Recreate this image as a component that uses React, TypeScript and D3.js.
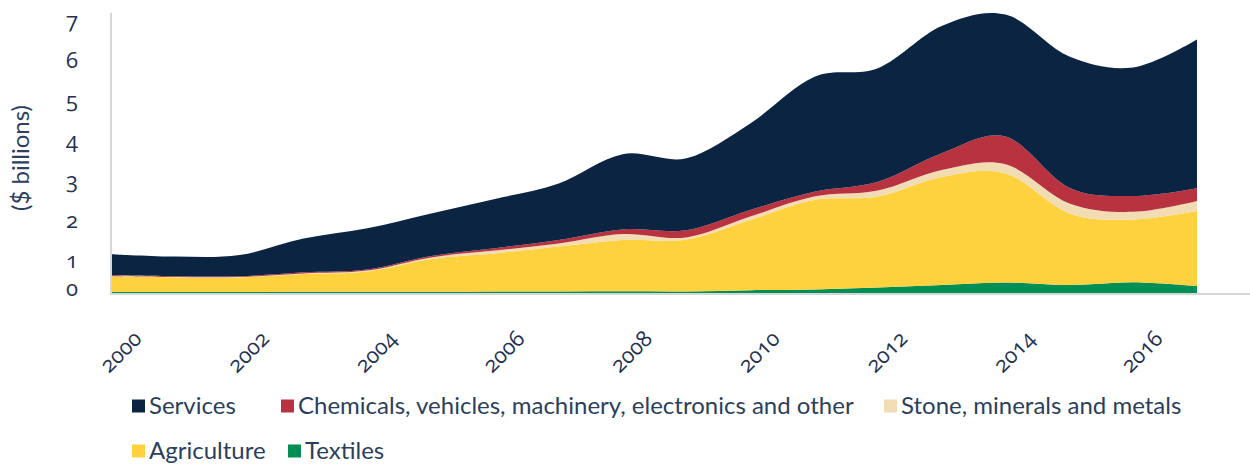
import React from "react";
import * as d3 from "d3";

// ---- data (US$ billions) ----
const years = [2000, 2001, 2002, 2003, 2004, 2005, 2006, 2007, 2008, 2009, 2010, 2011, 2012, 2013, 2014, 2015, 2016, 2017];
const textiles = [0.025, 0.025, 0.025, 0.03, 0.03, 0.03, 0.04, 0.04, 0.045, 0.04, 0.07, 0.09, 0.14, 0.2, 0.26, 0.2, 0.27, 0.175];
const agriculture = [0.385, 0.365, 0.365, 0.445, 0.51, 0.82, 0.95, 1.12, 1.28, 1.295, 1.755, 2.235, 2.27, 2.7, 2.73, 1.79, 1.57, 1.875];
const stone = [0.01, 0.01, 0.01, 0.015, 0.02, 0.04, 0.07, 0.08, 0.15, 0.055, 0.085, 0.085, 0.15, 0.175, 0.23, 0.25, 0.19, 0.25];
const chemicals = [0.025, 0.02, 0.02, 0.03, 0.03, 0.035, 0.06, 0.085, 0.115, 0.18, 0.165, 0.12, 0.22, 0.42, 0.69, 0.39, 0.395, 0.32];
const services = [0.525, 0.49, 0.53, 0.84, 1.03, 1.065, 1.23, 1.415, 1.88, 1.8, 2.165, 2.87, 2.84, 3.18, 3.05, 3.28, 3.215, 3.72];

const seriesKeys = ["textiles", "agriculture", "stone", "chemicals", "services"];
const seriesColors = ["#028f56", "#fed13e", "#f1dcb3", "#b8333f", "#0a2442"];

const yTicks = [0, 1, 2, 3, 4, 5, 6, 7];
const xTickLabels = [2000, 2002, 2004, 2006, 2008, 2010, 2012, 2014, 2016];

const legendRows = [
  [
    { label: "Services", color: "#0a2442" },
    { label: "Chemicals, vehicles, machinery, electronics and other", color: "#b8333f" },
    { label: "Stone, minerals and metals", color: "#f1dcb3" },
  ],
  [
    { label: "Agriculture", color: "#fed13e" },
    { label: "Textiles", color: "#028f56" },
  ],
];
const legendX = [
  [132, 281, 884],
  [132, 288],
];

const W = 1250;
const H = 466;
const FONT = "Lato, 'Open Sans', sans-serif";
const NUMFONT = "'Open Sans', Lato, sans-serif";
const TEXT = "#1f3253";

export default function App() {
  const rows = years.map((yr, i) => ({
    year: yr,
    textiles: textiles[i],
    agriculture: agriculture[i],
    stone: stone[i],
    chemicals: chemicals[i],
    services: services[i],
  }));

  const x = d3.scaleLinear().domain([years[0], years[years.length - 1]]).range([112, 1197]);
  const y = d3.scaleLinear().domain([0, 7]).range([293, 13]);

  const stack = d3.stack<any>().keys(seriesKeys);
  const layers = stack(rows);

  const area = d3
    .area<any>()
    .x((d: any) => x(d.data.year))
    .y0((d: any) => y(d[0]))
    .y1((d: any) => y(d[1]))
    .curve(d3.curveCardinal.tension(0));

  return (
    <svg
      width={W}
      height={H}
      style={{ position: "absolute", left: 0, top: 0, background: "#fff" }}
      fontFamily={FONT}
    >
      {layers.map((layer, i) => (
        <path key={seriesKeys[i]} d={area(layer as any) || ""} fill={seriesColors[i]} />
      ))}

      {/* axes */}
      <line x1={111} x2={111} y1={y(7)} y2={y(0) + 1} stroke="#d6d6d6" strokeWidth={2} />
      <line x1={110} x2={W} y1={y(0) + 1} y2={y(0) + 1} stroke="#d6d6d6" strokeWidth={2} />

      {/* y tick labels */}
      {yTicks.map((v) => (
        <text
          key={v}
          x={78}
          y={Math.min(y(v) + 15, y(0) + 3)}
          textAnchor="end"
          fontSize={22}
          fontFamily={NUMFONT}
          fill={TEXT}
          style={{ fontVariantNumeric: "oldstyle-nums" }}
        >
          {v}
        </text>
      ))}

      {/* y axis title */}
      <text
        transform={`translate(29,158) rotate(-90)`}
        textAnchor="middle"
        fontSize={24}
        fill="#2d4060"
      >
        ($ billions)
      </text>

      {/* x tick labels */}
      {xTickLabels.map((yr) => (
        <text
          key={yr}
          transform={`translate(${x(yr + 0.5) - 1},340) rotate(-45)`}
          textAnchor="end"
          fontSize={22}
          fontFamily={NUMFONT}
          fill={TEXT}
          style={{ fontVariantNumeric: "oldstyle-nums" }}
        >
          {yr}
        </text>
      ))}

      {/* legend */}
      {legendRows.map((row, r) =>
        row.map((item, k) => {
          const lx = legendX[r][k];
          const cy = 406 + r * 45;
          return (
            <g key={item.label}>
              <rect x={lx} y={cy - 6.5} width={13} height={13} fill={item.color} />
              <text x={lx + 17} y={cy + 8} fontSize={24} fill="#2b3f5d">
                {item.label}
              </text>
            </g>
          );
        })
      )}
    </svg>
  );
}
